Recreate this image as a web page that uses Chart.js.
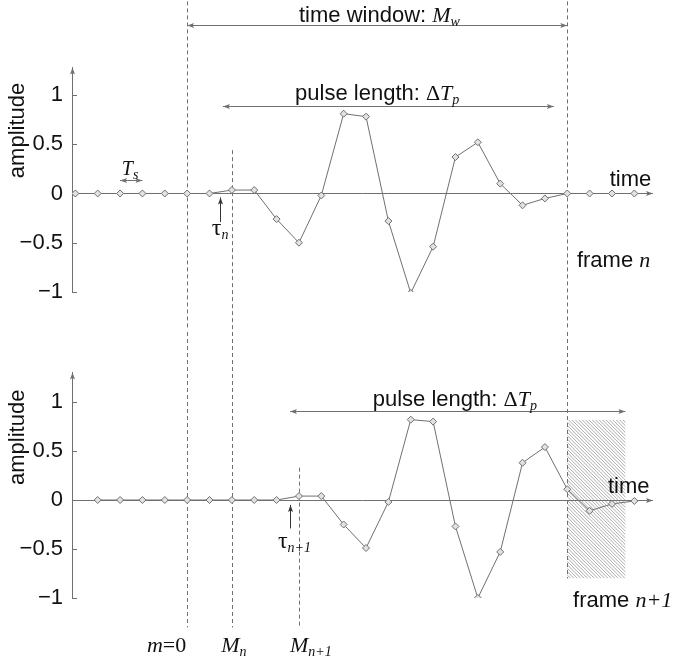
<!DOCTYPE html>
<html>
<head>
<meta charset="utf-8">
<script src="https://cdn.jsdelivr.net/npm/chart.js@4"></script>
<style>
  body { margin: 0; background: #fff; }
  #wrap { position: relative; width: 677px; height: 661px; }
  canvas { position: absolute; left: 0; }
  #frameTop { top: 0; }
  #frameBottom { top: 330px; }
</style>
</head>
<body>
<div id="wrap">
  <canvas id="frameTop" width="677" height="330"></canvas>
  <canvas id="frameBottom" width="677" height="331"></canvas>
</div>
<script>
/* global Chart */

// sample index m (one step = Ts)
const timeTop = [0, 1, 2, 3, 4, 5, 6, 7, 8, 9, 10, 11, 12, 13, 14, 15, 16, 17, 18, 19, 20, 21, 22, 23, 24, 25];
const ampTop = [0, 0, 0, 0, 0, 0, 0, 0.035, 0.035, -0.26, -0.5, -0.02, 0.81, 0.78, -0.28, -1.01, -0.54, 0.37, 0.52, 0.1, -0.12, -0.05, 0, 0, 0, 0];

const timeBottom = [1, 2, 3, 4, 5, 6, 7, 8, 9, 10, 11, 12, 13, 14, 15, 16, 17, 18, 19, 20, 21, 22, 23, 24, 25];
const ampBottom = [0, 0, 0, 0, 0, 0, 0, 0, 0, 0.04, 0.04, -0.25, -0.49, -0.02, 0.82, 0.8, -0.27, -1.0, -0.53, 0.38, 0.54, 0.11, -0.11, -0.04, -0.01];

const yTicks = [-1, -0.5, 0, 0.5, 1];

const INK = "#111";
const GRAY = "#707070";

const FONTS = {
  sans: '22px "Liberation Sans"',
  it: 'italic 22px "Liberation Serif"',
  itS: 'italic 20px "Liberation Serif"',
  rm: '22px "Liberation Serif"',
  tau: '24px "Liberation Serif"',
  sub: 'italic 14px "Liberation Serif"',
};

// annotations, in data units of each panel
const notes = {
  frameTop: {
    dashed: [[5, 1.95, -2], [7, 0.44, -2], [22, 1.95, -2]],
    spans: [[5, 22, 1.71], [6.6, 21.4, 0.89], [2, 3, 0.14]],
    ups: [[6.45, -0.29, -0.04]],
    labels: [
      [13.6, 1.74, "center", [["time window: ", "sans"], ["M", "it"], ["w", "sub"]]],
      [13.5, 0.95, "center", [["pulse length: ", "sans"], ["\u0394", "rm"], ["T", "it"], ["p", "sub"]]],
      [2.45, 0.19, "center", [["T", "itS"], ["s", "sub"]]],
      [6.1, -0.42, "left", [["\u03c4", "tau"], ["n", "sub"]]],
      [23.9, 0.076, "left", [["time", "sans"]]],
      [22.43, -0.75, "left", [["frame ", "sans"], ["n", "it"]]],
    ],
  },
  frameBottom: {
    dashed: [[5, 2, -1.3], [7, 2, -1.3], [10, 0.33, -1.3], [22, 2, -0.8]],
    spans: [[9.6, 24.6, 0.91]],
    ups: [[9.6, -0.29, -0.05]],
    hatch: [22, 24.6, 0.82, -0.8],
    labels: [
      [16.97, 0.96, "center", [["pulse length: ", "sans"], ["\u0394", "rm"], ["T", "it"], ["p", "sub"]]],
      [9.06, -0.49, "left", [["\u03c4", "tau"], ["n+1", "sub"]]],
      [23.82, 0.07, "left", [["time", "sans"]]],
      [22.26, -1.09, "left", [["frame ", "sans"], ["n+1", "it"]]],
      [4.08, -1.55, "center", [["m", "it"], ["=0", "rm"]]],
      [7.09, -1.55, "center", [["M", "it"], ["n", "sub"]]],
      [10.53, -1.55, "center", [["M", "it"], ["n+1", "sub"]]],
    ],
  },
};

function barb(ctx, x, y, angle) {
  ctx.save();
  ctx.translate(x, y);
  ctx.rotate(angle);
  ctx.beginPath();
  ctx.moveTo(0, 0);
  ctx.lineTo(-7, -2.5);
  ctx.lineTo(-5.5, 0);
  ctx.lineTo(-7, 2.5);
  ctx.closePath();
  ctx.fill();
  ctx.restore();
}

function richText(ctx, parts, x, y, align) {
  let w = 0;
  parts.forEach(([t, f]) => {
    ctx.font = FONTS[f];
    w += ctx.measureText(t).width;
  });
  let cx = align === "center" ? x - w / 2 : x;
  ctx.textAlign = "left";
  ctx.textBaseline = "alphabetic";
  parts.forEach(([t, f]) => {
    ctx.font = FONTS[f];
    ctx.fillText(t, cx, y + (f === "sub" ? 4 : 0));
    cx += ctx.measureText(t).width;
  });
}

const sketch = {
  id: "sketch",
  beforeDatasetsDraw(chart) {
    const { ctx, chartArea, scales } = chart;
    const xs = scales.x;
    const ys = scales.y;
    const n = notes[chart.canvas.id];
    ctx.save();
    ctx.strokeStyle = GRAY;
    ctx.fillStyle = GRAY;
    ctx.lineWidth = 1;

    // hatched region
    if (n.hatch) {
      const [x0, x1, y0, y1] = n.hatch;
      const l = xs.getPixelForValue(x0);
      const r = xs.getPixelForValue(x1);
      const t = ys.getPixelForValue(y0);
      const b = ys.getPixelForValue(y1);
      ctx.save();
      ctx.beginPath();
      ctx.rect(l, t, r - l, b - t);
      ctx.clip();
      ctx.strokeStyle = "#8a8a8a";
      ctx.lineWidth = 0.7;
      ctx.beginPath();
      for (let s = l - (b - t); s < r; s += 3.4) {
        ctx.moveTo(s, t);
        ctx.lineTo(s + (b - t), b);
      }
      ctx.stroke();
      ctx.restore();
    }

    // time axis with arrow
    const y0 = Math.round(ys.getPixelForValue(0)) + 0.5;
    ctx.beginPath();
    ctx.moveTo(chartArea.left, y0);
    ctx.lineTo(chartArea.right + 3, y0);
    ctx.stroke();
    barb(ctx, chartArea.right + 3, y0, 0);

    // amplitude axis arrow and inner ticks
    barb(ctx, chartArea.left + 0.5, chartArea.top, -Math.PI / 2);
    yTicks.forEach((v) => {
      const py = Math.round(ys.getPixelForValue(v)) + 0.5;
      ctx.beginPath();
      ctx.moveTo(chartArea.left, py);
      ctx.lineTo(chartArea.left + 5, py);
      ctx.stroke();
    });

    // dashed markers
    ctx.setLineDash([4, 3]);
    n.dashed.forEach(([x, a, b]) => {
      const px = Math.round(xs.getPixelForValue(x)) + 0.5;
      ctx.beginPath();
      ctx.moveTo(px, ys.getPixelForValue(a));
      ctx.lineTo(px, ys.getPixelForValue(b));
      ctx.stroke();
    });
    ctx.setLineDash([]);

    // double arrows
    n.spans.forEach(([a, b, y]) => {
      const py = Math.round(ys.getPixelForValue(y)) + 0.5;
      const pa = xs.getPixelForValue(a);
      const pb = xs.getPixelForValue(b);
      ctx.beginPath();
      ctx.moveTo(pa, py);
      ctx.lineTo(pb, py);
      ctx.stroke();
      barb(ctx, pa, py, Math.PI);
      barb(ctx, pb, py, 0);
    });

    // onset arrows
    ctx.strokeStyle = "#333";
    ctx.fillStyle = "#333";
    n.ups.forEach(([x, a, b]) => {
      const px = Math.round(xs.getPixelForValue(x)) + 0.5;
      const pa = ys.getPixelForValue(a);
      const pb = ys.getPixelForValue(b);
      ctx.beginPath();
      ctx.moveTo(px, pa);
      ctx.lineTo(px, pb);
      ctx.stroke();
      barb(ctx, px, pb, -Math.PI / 2);
    });
    ctx.restore();
  },
  afterDraw(chart) {
    const { ctx, chartArea, scales } = chart;
    const n = notes[chart.canvas.id];
    ctx.save();
    ctx.fillStyle = INK;
    n.labels.forEach(([x, y, align, parts]) => {
      richText(ctx, parts, scales.x.getPixelForValue(x), scales.y.getPixelForValue(y), align);
    });
    // axis title
    ctx.translate(chartArea.left - 54, scales.y.getPixelForValue(0.64));
    ctx.rotate(-Math.PI / 2);
    ctx.font = FONTS.sans;
    ctx.textAlign = "center";
    ctx.textBaseline = "middle";
    ctx.fillText("amplitude", 0, 0);
    ctx.restore();
  },
};

function frameChart(id, time, amp, yMax, padTop, padBottom) {
  return new Chart(document.getElementById(id), {
    type: "line",
    data: {
      datasets: [
        {
          data: time.map((t, i) => ({ x: t, y: amp[i] })),
          borderColor: GRAY,
          borderWidth: 1,
          tension: 0,
          pointStyle: "rectRot",
          pointRadius: 3.5,
          pointBackgroundColor: "#e2e2e2",
          pointBorderColor: GRAY,
          pointBorderWidth: 1,
        },
      ],
    },
    options: {
      responsive: false,
      animation: false,
      layout: {
        autoPadding: false,
        padding: { left: 0, right: 27, top: padTop, bottom: padBottom },
      },
      plugins: {
        legend: { display: false },
        tooltip: { enabled: false },
      },
      scales: {
        x: { type: "linear", display: false, min: -0.15, max: 25.7 },
        y: {
          min: -1,
          max: yMax,
          afterFit: (s) => {
            s.width = 72;
          },
          afterBuildTicks: (s) => {
            s.ticks = yTicks.map((v) => ({ value: v }));
          },
          grid: { display: false, drawTicks: false },
          border: { color: GRAY, width: 1 },
          ticks: {
            padding: 9,
            color: INK,
            font: { family: "Liberation Sans", size: 22 },
            callback: (v) => (v < 0 ? "\u2212" + -v : String(v)),
          },
        },
      },
    },
    plugins: [sketch],
  });
}

const charts = [];
charts[0] = frameChart("frameTop", timeTop, ampTop, 1.28, 67.4, 38);
charts[1] = frameChart("frameBottom", timeBottom, ampBottom, 1.3, 42.6, 63);
</script>
</body>
</html>
